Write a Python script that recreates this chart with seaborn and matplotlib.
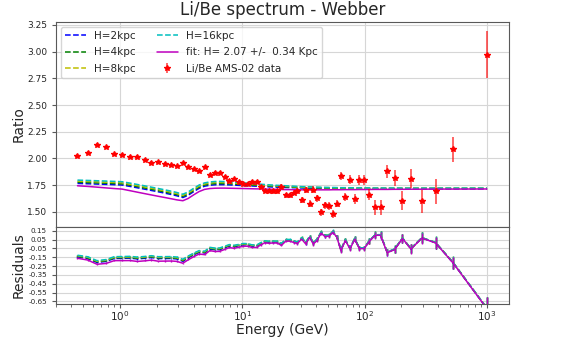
import numpy as np
import matplotlib
matplotlib.use("Agg")
from matplotlib import pyplot as plt
from matplotlib.ticker import FormatStrFormatter
import seaborn as sns

# kinetic energy per nucleon (GeV)
energy = [0.45, 0.545, 0.65, 0.77, 0.90, 1.04, 1.21, 1.39, 1.60, 1.81, 2.05,
          2.33, 2.64, 2.92, 3.27, 3.61, 4.02, 4.44, 4.92, 5.43, 5.97, 6.52,
          7.16, 7.86, 8.59, 9.37, 10.2, 11.1, 12.0, 13.1, 14.1, 15.2, 16.4,
          17.9, 19.3, 20.9, 22.7, 24.5, 26.5, 28.2, 30.6, 33.0, 35.6, 38.1,
          41.1, 44.1, 47.3, 51.4, 55.1, 59.4, 64.0, 69.6, 76.0, 83.0, 90.5,
          99.4, 109, 122, 135, 153, 176, 204, 239, 294, 380, 530, 1000]

# Li/Be AMS-02
ratio = [2.025, 2.053, 2.128, 2.103, 2.041, 2.035, 2.016, 2.016, 1.988, 1.960, 1.966,
         1.950, 1.934, 1.929, 1.953, 1.916, 1.897, 1.882, 1.916, 1.847, 1.866, 1.866,
         1.829, 1.791, 1.803, 1.782, 1.760, 1.760, 1.782, 1.782, 1.735, 1.691, 1.697,
         1.691, 1.691, 1.735, 1.653, 1.653, 1.679, 1.697, 1.610, 1.704, 1.578, 1.707,
         1.629, 1.494, 1.560, 1.554, 1.479, 1.578, 1.835, 1.641, 1.800, 1.616, 1.798,
         1.798, 1.660, 1.541, 1.541, 1.878, 1.819, 1.604, 1.810, 1.597, 1.691, 2.084, 2.970]
ratio_err = [0.012, 0.012, 0.012, 0.012, 0.012, 0.012, 0.012, 0.012, 0.012, 0.012, 0.012,
             0.012, 0.012, 0.012, 0.012, 0.012, 0.012, 0.012, 0.012, 0.012, 0.012, 0.012,
             0.013, 0.013, 0.014, 0.014, 0.015, 0.015, 0.016, 0.017, 0.017, 0.018, 0.019,
             0.020, 0.021, 0.022, 0.023, 0.024, 0.025, 0.026, 0.028, 0.029, 0.030, 0.032,
             0.033, 0.033, 0.034, 0.035, 0.036, 0.037, 0.040, 0.036, 0.042, 0.047, 0.044,
             0.044, 0.052, 0.066, 0.069, 0.062, 0.073, 0.087, 0.089, 0.105, 0.117, 0.120, 0.220]

# models (Webber cross sections)
h2 = [1.766, 1.763, 1.760, 1.757, 1.754, 1.751, 1.738, 1.725, 1.712, 1.700, 1.688,
      1.675, 1.662, 1.650, 1.634, 1.655, 1.690, 1.720, 1.740, 1.749, 1.753, 1.754,
      1.754, 1.752, 1.750, 1.748, 1.746, 1.744, 1.742, 1.740, 1.738, 1.736, 1.734,
      1.732, 1.731, 1.729, 1.728, 1.727, 1.726, 1.725, 1.724, 1.723, 1.722, 1.721,
      1.721, 1.720, 1.720, 1.719, 1.719, 1.718, 1.718, 1.718, 1.717, 1.717, 1.717,
      1.717, 1.716, 1.716, 1.716, 1.716, 1.716, 1.716, 1.716, 1.716, 1.716, 1.716, 1.716]
h4 = [1.777, 1.774, 1.771, 1.768, 1.765, 1.762, 1.749, 1.736, 1.723, 1.711, 1.699,
      1.686, 1.673, 1.661, 1.645, 1.666, 1.701, 1.731, 1.751, 1.760, 1.764, 1.765,
      1.764, 1.762, 1.760, 1.757, 1.755, 1.753, 1.750, 1.748, 1.746, 1.744, 1.742,
      1.740, 1.738, 1.736, 1.734, 1.733, 1.731, 1.730, 1.729, 1.728, 1.727, 1.726,
      1.725, 1.724, 1.724, 1.723, 1.723, 1.722, 1.722, 1.721, 1.721, 1.720, 1.720,
      1.720, 1.720, 1.719, 1.719, 1.719, 1.719, 1.719, 1.719, 1.719, 1.719, 1.719, 1.719]
h8 = [1.787, 1.784, 1.781, 1.778, 1.775, 1.772, 1.759, 1.746, 1.733, 1.721, 1.709,
      1.696, 1.683, 1.671, 1.655, 1.676, 1.711, 1.741, 1.761, 1.770, 1.774, 1.775,
      1.774, 1.771, 1.769, 1.766, 1.763, 1.760, 1.757, 1.755, 1.752, 1.750, 1.748,
      1.745, 1.743, 1.741, 1.739, 1.737, 1.735, 1.734, 1.732, 1.731, 1.730, 1.729,
      1.728, 1.727, 1.726, 1.726, 1.725, 1.725, 1.724, 1.724, 1.723, 1.723, 1.723,
      1.722, 1.722, 1.722, 1.722, 1.721, 1.721, 1.721, 1.721, 1.721, 1.721, 1.721, 1.721]
h16 = [1.797, 1.794, 1.791, 1.788, 1.785, 1.782, 1.769, 1.756, 1.743, 1.731, 1.719,
       1.706, 1.693, 1.681, 1.665, 1.686, 1.721, 1.751, 1.771, 1.780, 1.784, 1.785,
       1.783, 1.780, 1.777, 1.774, 1.771, 1.768, 1.765, 1.762, 1.759, 1.756, 1.753,
       1.750, 1.748, 1.746, 1.744, 1.742, 1.740, 1.738, 1.736, 1.735, 1.734, 1.732,
       1.731, 1.730, 1.729, 1.728, 1.728, 1.727, 1.726, 1.726, 1.725, 1.725, 1.724,
       1.724, 1.724, 1.723, 1.723, 1.723, 1.723, 1.722, 1.722, 1.722, 1.722, 1.722, 1.722]
hfit = [1.744, 1.738, 1.731, 1.724, 1.718, 1.713, 1.698, 1.684, 1.670, 1.658, 1.646,
        1.634, 1.622, 1.612, 1.604, 1.625, 1.660, 1.690, 1.710, 1.718, 1.721, 1.722,
        1.722, 1.721, 1.720, 1.719, 1.718, 1.717, 1.716, 1.715, 1.714, 1.713, 1.712,
        1.711, 1.710, 1.709, 1.708, 1.708, 1.707, 1.707, 1.706, 1.706, 1.706, 1.706,
        1.706, 1.706, 1.706, 1.706, 1.707, 1.707, 1.707, 1.708, 1.708, 1.708, 1.709,
        1.709, 1.709, 1.710, 1.710, 1.710, 1.711, 1.711, 1.712, 1.712, 1.713, 1.713, 1.714]

models = [h2, h4, h8, h16, hfit]
labels = ['H=2kpc', 'H=4kpc', 'H=8kpc', 'H=16kpc', 'fit: H= 2.07 +/-  0.34 Kpc']
colors = ['b', 'g', 'y', 'c', 'm']
styles = ['--', '--', '--', '--', '-']

res_ticks = [-0.65, -0.55, -0.45, -0.35, -0.25, -0.15, -0.05, 0.05, 0.15]

sns.set_style("whitegrid", {"axes.edgecolor": "0.35", "grid.color": "0.84",
                            "xtick.bottom": True, "ytick.left": True})
plt.rcParams['font.family'] = ['DejaVu Sans']

E = np.array(energy)
R = np.array(ratio)
dR = np.array(ratio_err)

fig = plt.figure(figsize=(5.65, 3.39), dpi=100)
ax1 = fig.add_axes([0.099, 0.331, 0.801, 0.605])
ax2 = fig.add_axes([0.099, 0.103, 0.801, 0.228], sharex=ax1)

for m, lab, c, ls in zip(models, labels, colors, styles):
    sns.lineplot(x=E, y=np.array(m), ax=ax1, color=c, linestyle=ls,
                 linewidth=1.1, label=lab, sort=False, estimator=None)
ax1.errorbar(E, R, yerr=dR, fmt='*', color='red', ecolor=(1, 0, 0, 0.65),
             markersize=4, elinewidth=1.3, label='Li/Be AMS-02 data')

ax1.set_xscale('log')
ax1.set_xlim(0.3, 1500)
ax1.set_ylim(1.36, 3.28)
ax1.set_yticks(np.arange(1.5, 3.26, 0.25))
ax1.yaxis.set_major_formatter(FormatStrFormatter('%.2f'))
ax1.tick_params(axis='y', labelsize=6.5, length=3, color='0.35')
ax1.tick_params(axis='x', which='both', bottom=False, labelbottom=False)
ax1.set_ylabel('Ratio', fontsize=10)
ax1.yaxis.set_label_coords(-0.068, 0.5)
ax1.set_title('Li/Be spectrum - Webber', fontsize=12, pad=5)

h, l = ax1.get_legend_handles_labels()
ax1.legend(h, l, ncol=2, loc='upper left', fontsize=7.5, framealpha=0.8,
           labelspacing=0.6)

# residuals (model - data) / model
for m, c, ls in zip(models, colors, styles):
    m = np.array(m)
    ax2.errorbar(E, (m - R) / m, yerr=dR / m, fmt=ls, color=c, linewidth=1.1,
                 elinewidth=1.0)

ax2.set_ylim(-0.68, 0.195)
ax2.set_yticks(res_ticks)
ax2.yaxis.set_major_formatter(FormatStrFormatter('%.2f'))
ax2.tick_params(axis='y', labelsize=5.2, length=3, color='0.35')
ax2.tick_params(axis='x', which='major', labelsize=7.5, length=3, pad=1,
                color='0.35')
ax2.tick_params(axis='x', which='minor', length=2, color='0.35')
ax2.set_ylabel('Residuals', fontsize=10)
ax2.yaxis.set_label_coords(-0.068, 0.5)
ax2.set_xlabel('Energy (GeV)', fontsize=10)
ax2.xaxis.set_label_coords(0.5, -0.245)

fig.savefig('out.png', dpi=100)
